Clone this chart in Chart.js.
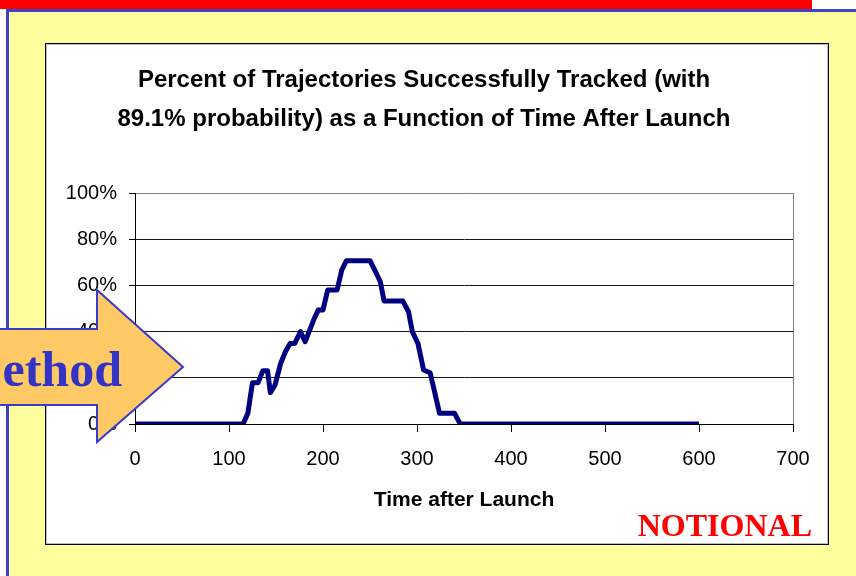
<!DOCTYPE html>
<html>
<head>
<meta charset="utf-8">
<script src="https://cdn.jsdelivr.net/npm/chart.js@4"></script>
<style>
  body { margin: 0; width: 856px; height: 576px; position: relative; overflow: hidden; background: #fff; }
  .redbar { position: absolute; left: 0; top: 0; width: 812px; height: 9px; background: #ff0000; }
  .slide { position: absolute; left: 6px; top: 9px; right: 0; bottom: 0; background: #ffff9e;
           border-top: 3px solid #4040c8; border-left: 3px solid #4040c8; }
  .box { position: absolute; left: 45px; top: 43px; width: 782px; height: 500px;
         background: #fff; border: 1px solid #000; box-shadow: inset 0 0 0 1px #bbb; }
  #myChart { position: absolute; left: 0; top: 0; }
  svg { position: absolute; left: 0; top: 0; }
</style>
</head>
<body>
<div class="redbar"></div>
<div class="slide"></div>
<div class="box"><canvas id="myChart" width="782" height="500"></canvas></div>
<svg width="856" height="576">
  <polygon points="-5,329 97,329 97,290 183,367 97,442 97,405 -5,405" fill="#ffca66" stroke="#3a3ac8" stroke-width="2"/>
  <text x="122" y="386" text-anchor="end" font-family="Liberation Serif, Times New Roman, serif" font-weight="bold" font-size="50" fill="#3333c4">ethod</text>
  <text x="812" y="536" text-anchor="end" font-family="Liberation Serif, Times New Roman, serif" font-weight="bold" font-size="32" fill="#ff0000">NOTIONAL</text>
</svg>
<script>
// time after launch (s) and percent of trajectories tracked
const times = [0, 115, 120, 125, 131, 136, 141, 144, 149, 155, 160, 165, 170, 176, 181, 190, 195, 200,
    205, 215, 220, 225, 250, 256, 261, 265, 285, 291, 295, 301, 307, 314, 324, 340, 346, 600];
const percent = [0, 0, 4.6, 17.9, 17.9, 23.1, 23.1, 13.6, 16.9, 26.3, 31.3, 34.9, 34.9, 40, 35.6, 45, 49.4, 49.4,
    58, 58, 66.7, 70.7, 70.7, 65.9, 61.6, 53.2, 53.2, 48.6, 40, 34.9, 23.4, 22.2, 4.6, 4.6, 0, 0];

const titleLines = ['Percent of Trajectories Successfully Tracked (with',
    '89.1% probability) as a Function of Time After Launch'];
const xTitle = 'Time after Launch';
const xTicks = [0, 100, 200, 300, 400, 500, 600, 700];
const yTicks = [0, 20, 40, 60, 80, 100];

const FONT = "'Liberation Sans', Arial, sans-serif";
const ctx = document.getElementById('myChart');

// gray frame line on the right of the plot
const plotFrame = {
    id: 'plotFrame',
    beforeDatasetsDraw(chart) {
        const { ctx, chartArea: a } = chart;
        ctx.save();
        ctx.strokeStyle = '#808080';
        ctx.lineWidth = 1;
        ctx.beginPath();
        ctx.moveTo(a.right + 0.5, a.top);
        ctx.lineTo(a.right + 0.5, a.bottom);
        ctx.stroke();
        ctx.restore();
    },
};

// two-line bold title, centred a bit left of the box
const boxTitle = {
    id: 'boxTitle',
    afterDraw(chart) {
        const c = chart.ctx;
        const baselines = [43, 82];
        c.save();
        c.fillStyle = '#000';
        c.font = 'bold 24px ' + FONT;
        c.textAlign = 'center';
        c.textBaseline = 'alphabetic';
        titleLines.forEach((line, i) => c.fillText(line, 378, baselines[i]));
        c.restore();
    },
};

const chartData = {
    datasets: [{
        label: 'Tracked',
        data: times.map((t, i) => ({ x: t, y: percent[i] })),
        borderColor: '#000080',
        borderWidth: 5,
        borderJoinStyle: 'round',
        pointRadius: 0,
        tension: 0,
        fill: false,
    }],
};

const chartConfig = {
    type: 'line',
    data: chartData,
    options: {
        responsive: false,
        animation: false,
        layout: { padding: { left: 0, right: 35, top: 149, bottom: 0 } },
        plugins: { legend: { display: false }, tooltip: { enabled: false } },
        scales: {
            x: {
                type: 'linear',
                min: 0,
                max: 700,
                afterFit: (s) => { s.height = 120; },
                afterBuildTicks: (s) => { s.ticks = xTicks.map(v => ({ value: v })); },
                ticks: { color: '#000', font: { family: FONT, size: 20 }, padding: 15, maxRotation: 0 },
                grid: { drawOnChartArea: false, drawTicks: true, tickLength: 8, tickColor: '#000' },
                border: { color: '#000', width: 1 },
                title: {
                    display: true,
                    text: xTitle,
                    color: '#000',
                    font: { family: FONT, size: 21, weight: 'bold' },
                    padding: { top: 0, bottom: 31 },
                },
            },
            y: {
                min: 0,
                max: 100,
                afterFit: (s) => { s.width = 89; },
                afterBuildTicks: (s) => { s.ticks = yTicks.map(v => ({ value: v })); },
                ticks: {
                    color: '#000',
                    font: { family: FONT, size: 20 },
                    padding: 12,
                    callback: (v) => v + '%',
                },
                grid: {
                    color: (c) => (c.tick && c.tick.value === 100 ? '#808080' : '#1a1a1a'),
                    lineWidth: 1,
                    drawTicks: true,
                    tickLength: 6,
                    tickColor: '#000',
                },
                border: { color: '#000', width: 1 },
            },
        },
    },
    plugins: [plotFrame, boxTitle],
};

chart = new Chart(ctx, chartConfig);
</script>
</body>
</html>
